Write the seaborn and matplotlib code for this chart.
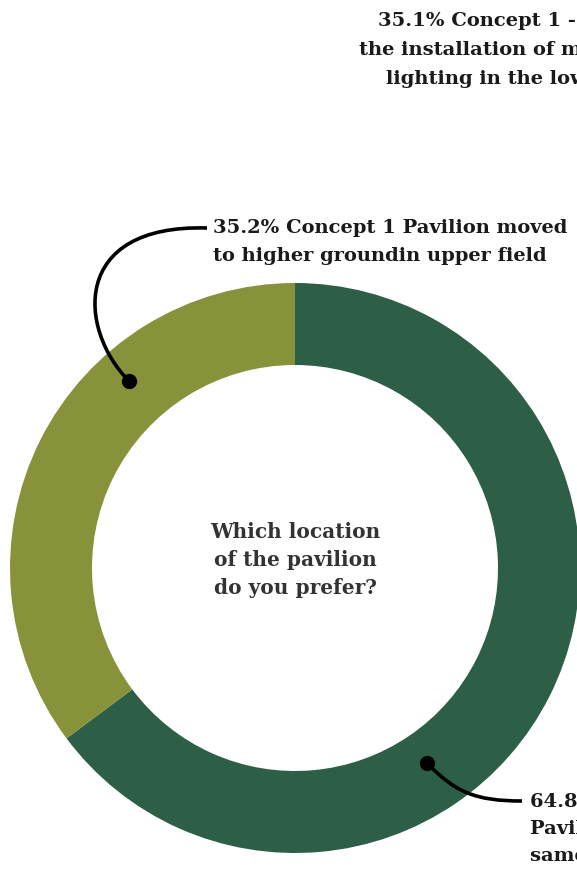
import matplotlib
matplotlib.use("Agg")
import matplotlib.pyplot as plt
from matplotlib.path import Path
from matplotlib.patches import PathPatch
import seaborn as sns

# ---- data ----
categories = ["Concept 2 Pavilion in the same location",
              "Concept 1 Pavilion moved to higher ground in upper field"]
shares = [64.8, 35.2]
colors = ["#2D5E47", "#87923B"]
center_title = "Which location\nof the pavilion\ndo you prefer?"
label_olive = "35.2% Concept 1 Pavilion moved\nto higher groundin upper field"
label_green = "64.8% Concept 2 -\nPavilion in the\nsame location"
label_other = ["35.1% Concept 1 - The", "the installation of more", "lighting in the lower field"]

sns.set_theme(style="white")
plt.rcParams['font.family'] = ['DejaVu Serif']

W, H = 577, 869
CX, CY, R = 295, 568, 285

def d(px, py):
    return ((px - CX) / R, (CY - py) / R)

fig = plt.figure(figsize=(W / 100, H / 100), dpi=100)
ax = fig.add_axes([0, 0, 1, 1])
ax.pie(shares, colors=colors, startangle=90, counterclock=False, radius=1,
       wedgeprops=dict(width=82 / R, edgecolor="none"))
ax.set_xlim(-CX / R, (W - CX) / R)
ax.set_ylim(-(H - CY) / R, CY / R)
ax.set_aspect("equal")
ax.axis("off")

fs = 14
ls = 1.65
txtc = "#1a1a1a"
# center text
ax.text(*d(CX, 560), center_title, ha="center", va="center", fontsize=14.5,
        fontweight="bold", color="#333333", linespacing=1.5)

# olive label + leader
ax.text(*d(213, 242), label_olive, ha="left", va="center", fontsize=fs,
        fontweight="bold", color=txtc, linespacing=ls)
verts = [d(207, 228), d(70, 224), d(78, 330), d(129, 381)]
ax.add_patch(PathPatch(Path(verts, [Path.MOVETO, Path.CURVE4, Path.CURVE4, Path.CURVE4]),
                       fill=False, lw=2.6, color="black", capstyle="butt"))
ax.plot(*d(129, 381), "o", color="black", markersize=10)

# green label + leader
verts2 = [d(427, 763), d(455, 792), d(475, 801), d(522, 801)]
ax.add_patch(PathPatch(Path(verts2, [Path.MOVETO, Path.CURVE4, Path.CURVE4, Path.CURVE4]),
                       fill=False, lw=2.6, color="black", capstyle="butt"))
ax.plot(*d(427, 763), "o", color="black", markersize=10)
ax.text(*d(530, 829), label_green, ha="left", va="center", fontsize=fs,
        fontweight="bold", color=txtc, linespacing=ls)

# other chart's label (cut off at right edge, as in the reference)
for (px, py), line in zip([(378, 21), (359, 50), (386, 79)], label_other):
    ax.text(*d(px, py), line, ha="left", va="center", fontsize=fs,
            fontweight="bold", color=txtc)

fig.savefig("out.png", dpi=100)
